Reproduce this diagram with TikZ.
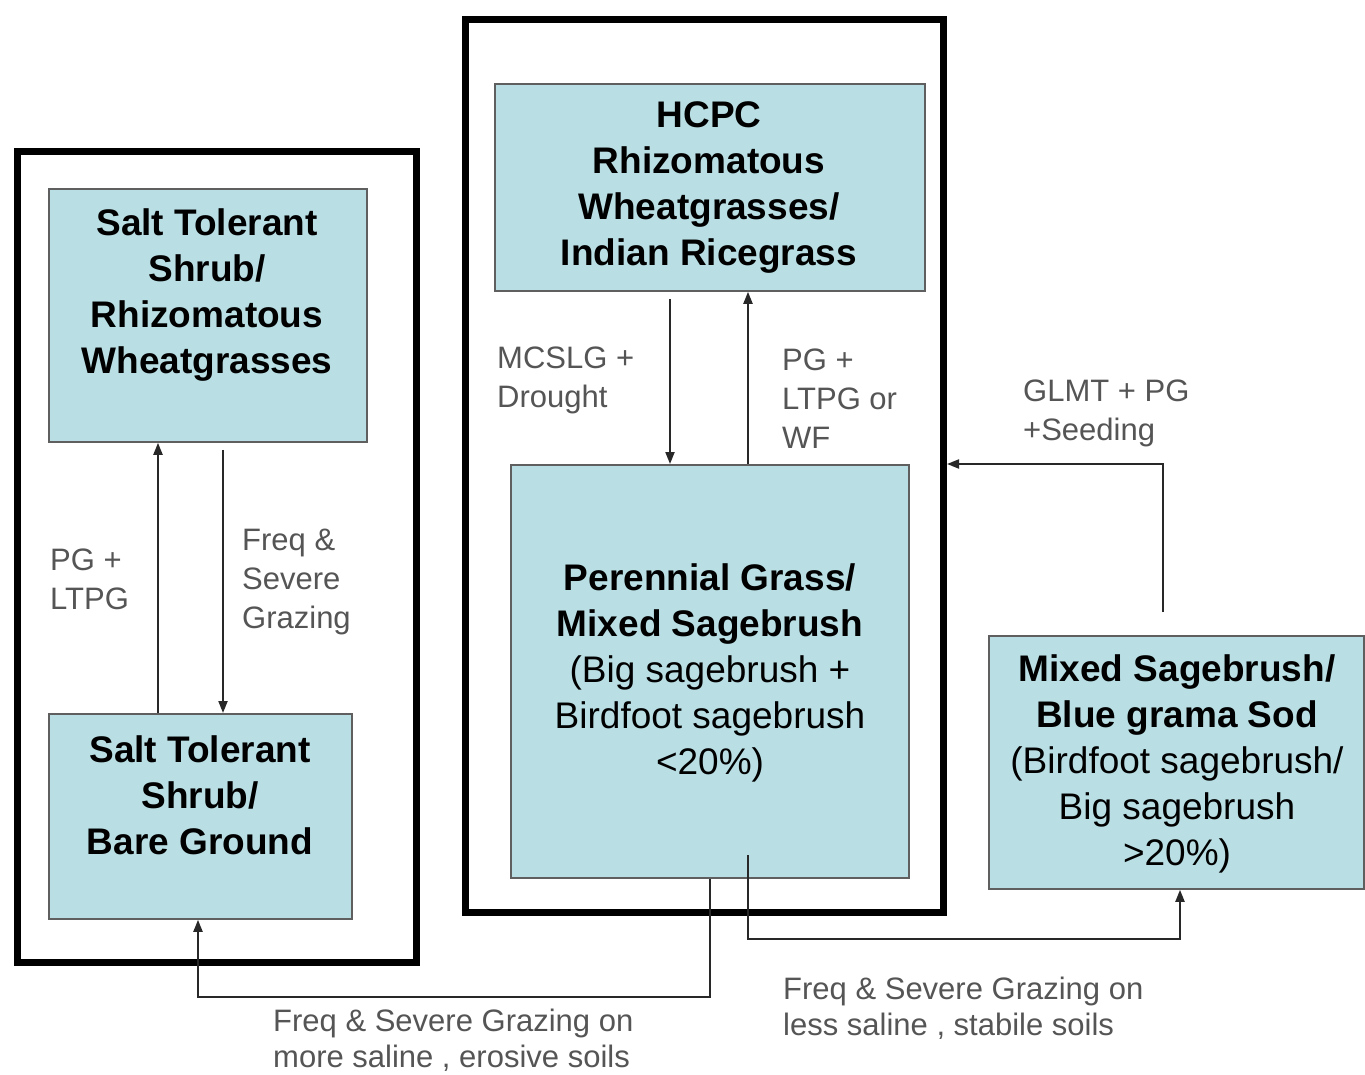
\documentclass[tikz,border=0pt]{standalone}
\usepackage{fontspec}
\setmainfont{Liberation Sans}
\usetikzlibrary{arrows.meta}
\definecolor{boxfill}{RGB}{185,223,228}
\definecolor{boxline}{RGB}{95,95,95}
\definecolor{lbl}{RGB}{85,85,85}
\definecolor{connc}{RGB}{40,40,40}
\begin{document}
\begin{tikzpicture}[x=1pt,y=-1pt,
  statebox/.style={draw=boxline, line width=1.8pt, fill=boxfill, anchor=north west, inner sep=0pt},
  boxtext/.style={align=center, font=\fontsize{37}{46}\selectfont, inner sep=0pt},
  lab/.style={align=left, anchor=west, text=lbl, font=\fontsize{31}{39}\selectfont, inner sep=0pt},
  lowlab/.style={align=left, anchor=west, text=lbl, font=\fontsize{31}{36}\selectfont, inner sep=0pt},
  frame/.style={draw=black, line width=7pt, anchor=north west, inner sep=0pt},
  conn/.style={draw=connc, line width=2pt, -{Triangle[length=12pt,width=9pt]}},
]
\useasboundingbox[fill=white] (0,0) rectangle (1365,1075);

% frames
\node[frame, minimum width=399pt, minimum height=811pt] (L) at (14,148) {};
\node[frame, minimum width=478pt, minimum height=893pt] (C) at (462,16) {};

% state boxes
\node[statebox, minimum width=318pt, minimum height=253pt] (A) at (48,188) {};
\node[statebox, minimum width=303pt, minimum height=205pt] (B) at (48,713) {};
\node[statebox, minimum width=430pt, minimum height=207pt] (H) at (494,83) {};
\node[statebox, minimum width=398pt, minimum height=413pt] (P) at (510,464) {};
\node[statebox, minimum width=375pt, minimum height=253pt] (R) at (988,635) {};

% box texts
\node[boxtext] (At) at (207,295) {\bfseries Salt Tolerant\\\bfseries Shrub/\\\bfseries Rhizomatous\\\bfseries Wheatgrasses};
\node[boxtext] (Bt) at (200,795) {\bfseries Salt Tolerant\\\bfseries Shrub/\\\bfseries Bare Ground};
\node[boxtext] (Ht) at (709,188) {\bfseries HCPC\\\bfseries Rhizomatous\\\bfseries Wheatgrasses/\\\bfseries Indian Ricegrass};
\node[boxtext] (Pt) at (710,673) {\bfseries Perennial Grass/\\\bfseries Mixed Sagebrush\\(Big sagebrush +\\Birdfoot sagebrush\\<20\%)};
\node[boxtext] (Rt) at (1177,764) {\bfseries Mixed Sagebrush/\\\bfseries Blue grama Sod\\(Birdfoot sagebrush/\\Big sagebrush\\>20\%)};

% connectors
\draw[conn] ([xshift=110pt]B.north west) -- ([xshift=110pt]A.south west);
\draw[conn] ([xshift=175pt,yshift=-7pt]A.south west) -- ([xshift=175pt]B.north west);
\draw[conn] ([xshift=176pt,yshift=-7pt]H.south west) -- ([xshift=160pt]P.north west);
\draw[conn] ([xshift=238pt]P.north west) -- ([xshift=254pt]H.south west);
\draw[conn] ([xshift=175pt,yshift=23pt]R.north west) |- (C.east |- P.north);
\draw[conn] ([xshift=200pt]P.south west) -- ([xshift=200pt,yshift=-118pt]P.south west) -| ([xshift=150pt]B.south west);
\draw[conn] ([xshift=238pt,yshift=24pt]P.south west) -- ([xshift=238pt,yshift=-60pt]P.south west) -| ([xshift=192pt]R.south west);

% labels
\node[lab] (l1) at (50,579) {PG +\\LTPG};
\node[lab] (l2) at (242,582) {Freq \&\\Severe\\Grazing};
\node[lab] (l3) at (497,380) {MCSLG +\\Drought};
\node[lab] (l4) at (782,399) {PG +\\LTPG or\\WF};
\node[lab] (l5) at (1023,413) {GLMT + PG\\+Seeding};
\node[lowlab] (l6) at (273,1040) {Freq \& Severe Grazing on\\more saline , erosive soils};
\node[lowlab] (l7) at (783,1008) {Freq \& Severe Grazing on\\less saline , stabile soils};
\end{tikzpicture}
\end{document}
